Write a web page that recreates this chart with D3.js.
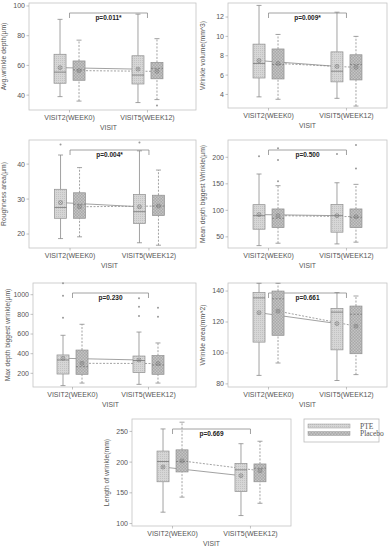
<!DOCTYPE html>
<html lang="en">
<head>
<meta charset="UTF-8">
<title>Wrinkle box plots</title>
<script src="https://d3js.org/d3.v7.min.js"></script>
<style>
  body { margin: 0; background: #fff; }
  svg { display: block; font-family: "Liberation Sans", Arial, sans-serif; }
  .tick-label { font-size: 7px; fill: #555; }
  .axis-title { font-size: 6.8px; fill: #555; }
  .pval { font-size: 6.5px; font-weight: bold; fill: #222; }
  .legend-text { font-family: "Liberation Serif", serif; font-size: 7.5px; fill: #555; }
</style>
</head>
<body>
<svg id="chart" width="391" height="550"></svg>
<script>
// categories
var visits = ["VISIT2(WEEK0)", "VISIT5(WEEK12)"];
var groups = ["PTE", "Placebo"];

var yTitles = ["Avg.wrinkle depth(\u00b5m)", "Wrinkle volume(mm^3)", "Roughness area(\u00b5m)",
  "Mean depth biggest Wrinkle(\u00b5m)", "Max depth biggest wrinkle(\u00b5m)",
  "Wrinkle area(mm^2)", "Length of wrinkle(mm)"];
var pValues = ["p=0.011*", "p=0.009*", "p=0.004*", "p=0.500", "p=0.230", "p=0.661", "p=0.669"];

var yTicks = [
  [40, 60, 80, 100],
  [4, 6, 8, 10, 12],
  [20, 30, 40],
  [50, 100, 150, 200],
  [200, 400, 600, 800, 1000],
  [80, 100, 120, 140],
  [100, 150, 200, 250]
];
var yDomains = [[30, 102], [2.6, 13.45], [16, 46.9], [29, 232.6], [61, 1119], [78, 145.2], [96, 270.2]];

// each row: [whisker low, q1, median, q3, whisker high, mean]
// order: PTE V2, Placebo V2, PTE V5, Placebo V5
var avgDepth = [[39, 48, 55.5, 67.5, 91, 58.5], [36, 50, 57, 63, 77, 56.5],
                [35, 47.5, 53.5, 66.5, 94.5, 57.5], [37, 51, 58, 62, 78, 56]];
var avgDepthOut = [[], [], [], [33]];

var volume = [[3.75, 5.7, 7.2, 9.2, 13.2, 7.5], [3.5, 5.6, 7.1, 8.7, 10.2, 7.2],
              [3.6, 5.3, 6.4, 8.4, 12.5, 6.9], [2.8, 5.5, 7.1, 8.1, 10.0, 6.8]];
var volumeOut = [[], [], [], []];

var roughness = [[18.7, 24.5, 27.6, 32.8, 42.6, 29], [19.2, 24.5, 28.5, 31.8, 39, 27.8],
                 [17.5, 23, 26.4, 31.3, 43.8, 27.8], [16.8, 25.3, 28, 31.1, 38.3, 28]];
var roughnessOut = [[45.6], [], [46.2], []];

var meanDepth = [[33.5, 64.4, 90, 110.7, 168.5, 92], [38, 67.4, 85, 102.6, 146.5, 90],
                 [36.7, 58.8, 90, 111, 152, 90], [40, 67.4, 87, 102.6, 149, 88]];
var meanDepthOut = [[202], [217, 195, 155], [206], [223, 179]];

var maxDepth = [[75, 193, 336, 387, 587, 353], [101, 190, 268, 437, 699, 302],
                [88, 207, 330, 376, 620, 336], [101, 190, 285, 380, 509, 300]];
var maxDepthOut = [[1116, 990, 766], [], [963, 878, 783], [868, 776]];

var area = [[85.5, 107, 135.6, 139, 145, 126], [93.5, 111.4, 135, 140, 145, 127],
            [82.2, 102, 126.4, 128.8, 139, 119], [86, 99.5, 125, 130.3, 136.8, 117.3]];
var areaOut = [[], [], [], []];

var lengthW = [[118.5, 168, 201, 218, 254, 192], [143, 184, 201, 220, 265, 202],
               [113, 152, 187.5, 198, 230, 178], [133, 168, 190, 197, 234, 186]];
var lengthWOut = [[], [], [], []];

var allStats = [avgDepth, volume, roughness, meanDepth, maxDepth, area, lengthW];
var allOut = [avgDepthOut, volumeOut, roughnessOut, meanDepthOut, maxDepthOut, areaOut, lengthWOut];

// layout: frame box and the x range the categories are spread over
var frames = [
  {x0: 29, x1: 196, xr: 188, y0: 3, y1: 110},
  {x0: 228, x1: 387, xr: 387, y0: 3, y1: 108},
  {x0: 29, x1: 196, xr: 190, y0: 140, y1: 248},
  {x0: 228, x1: 387, xr: 387, y0: 140, y1: 248},
  {x0: 33, x1: 196, xr: 188, y0: 283, y1: 387},
  {x0: 228, x1: 387, xr: 387, y0: 283, y1: 387},
  {x0: 132, x1: 291, xr: 291, y0: 419, y1: 526}
];

var svg = d3.select("#chart");
var defs = svg.append("defs");

// fill textures
var pPte = defs.append("pattern").attr("id", "patPTE")
    .attr("width", 2).attr("height", 2).attr("patternUnits", "userSpaceOnUse");
pPte.append("rect").attr("width", 2).attr("height", 2).attr("fill", "#d6d6d6");
pPte.append("rect").attr("width", 1).attr("height", 1).attr("fill", "#c2c2c2");

var pPl = defs.append("pattern").attr("id", "patPlacebo")
    .attr("width", 3).attr("height", 3).attr("patternUnits", "userSpaceOnUse");
pPl.append("rect").attr("width", 3).attr("height", 3).attr("fill", "#a9a9a9");
pPl.append("rect").attr("width", 1.5).attr("height", 1.5).attr("fill", "#c4c4c4");
pPl.append("rect").attr("x", 1.5).attr("y", 1.5).attr("width", 1.5).attr("height", 1.5).attr("fill", "#c4c4c4");

var fills = {PTE: "url(#patPTE)", Placebo: "url(#patPlacebo)"};
var dashes = {PTE: null, Placebo: "2,1.5"};
var lineCol = "#8a8a8a";

frames.forEach(function(f, i) {
  var g = svg.append("g");
  var stats = allStats[i], outs = allOut[i];

  var x = d3.scalePoint().domain(visits).range([f.x0, f.xr]).padding(0.52);
  var xg = d3.scalePoint().domain(groups).range([-9.5, 9.5]);
  var y = d3.scaleLinear().domain(yDomains[i]).range([f.y1, f.y0]);
  var bw = 12, cap = 5;

  // frame
  g.append("rect").attr("x", f.x0).attr("y", f.y0)
    .attr("width", f.x1 - f.x0).attr("height", f.y1 - f.y0)
    .attr("fill", "none").attr("stroke", "#c4c4c4").attr("stroke-width", 0.8);

  // y axis
  yTicks[i].forEach(function(t) {
    g.append("line").attr("x1", f.x0 - 2.5).attr("x2", f.x0)
      .attr("y1", y(t)).attr("y2", y(t)).attr("stroke", "#999").attr("stroke-width", 0.6);
    g.append("text").attr("class", "tick-label")
      .attr("x", f.x0 - 4).attr("y", y(t)).attr("dy", "0.35em")
      .attr("text-anchor", "end").text(t);
  });
  g.append("text").attr("class", "axis-title")
    .attr("transform", "translate(" + (f.x0 - 23) + "," + ((f.y0 + f.y1) / 2) + ") rotate(-90)")
    .attr("text-anchor", "middle").text(yTitles[i]);

  // x axis
  visits.forEach(function(v) {
    g.append("line").attr("x1", x(v)).attr("x2", x(v))
      .attr("y1", f.y1).attr("y2", f.y1 + 2.5).attr("stroke", "#999").attr("stroke-width", 0.6);
    g.append("text").attr("class", "tick-label")
      .attr("x", x(v)).attr("y", f.y1 + 10).attr("text-anchor", "middle").text(v);
  });
  g.append("text").attr("class", "axis-title")
    .attr("x", (x(visits[0]) + x(visits[1])) / 2).attr("y", f.y1 + 20)
    .attr("text-anchor", "middle").text("VISIT");

  // p-value bracket
  var by = f.y0 + 10;
  g.append("path")
    .attr("d", "M" + x(visits[0]) + "," + (by + 5) + "V" + by + "H" + x(visits[1]) + "V" + (by + 5))
    .attr("fill", "none").attr("stroke", lineCol).attr("stroke-width", 0.8);
  g.append("text").attr("class", "pval")
    .attr("x", (x(visits[0]) + x(visits[1])) / 2).attr("y", by + 7)
    .attr("text-anchor", "middle").text(pValues[i]);

  var items = [];
  visits.forEach(function(v, vi) {
    groups.forEach(function(gr, gi) {
      var s = stats[vi * 2 + gi];
      items.push({visit: v, group: gr, s: s, out: outs[vi * 2 + gi], cx: x(v) + xg(gr)});
    });
  });

  // mean lines
  groups.forEach(function(gr) {
    var pts = items.filter(function(d) { return d.group === gr; });
    g.append("line")
      .attr("x1", pts[0].cx).attr("y1", y(pts[0].s[5]))
      .attr("x2", pts[1].cx).attr("y2", y(pts[1].s[5]))
      .attr("stroke", lineCol).attr("stroke-width", 0.8)
      .attr("stroke-dasharray", dashes[gr]);
  });

  items.forEach(function(d) {
    var s = d.s, cx = d.cx;
    var dash = dashes[d.group];
    // whiskers
    g.append("line").attr("x1", cx).attr("x2", cx).attr("y1", y(s[0])).attr("y2", y(s[1]))
      .attr("stroke", lineCol).attr("stroke-width", 0.8).attr("stroke-dasharray", dash);
    g.append("line").attr("x1", cx).attr("x2", cx).attr("y1", y(s[3])).attr("y2", y(s[4]))
      .attr("stroke", lineCol).attr("stroke-width", 0.8).attr("stroke-dasharray", dash);
    [s[0], s[4]].forEach(function(w) {
      g.append("line").attr("x1", cx - cap / 2).attr("x2", cx + cap / 2)
        .attr("y1", y(w)).attr("y2", y(w)).attr("stroke", lineCol).attr("stroke-width", 0.8);
    });
    // box
    g.append("rect").attr("x", cx - bw / 2).attr("y", y(s[3]))
      .attr("width", bw).attr("height", y(s[1]) - y(s[3]))
      .attr("fill", fills[d.group]).attr("stroke", "#8f8f8f").attr("stroke-width", 0.7);
    // median
    g.append("line").attr("x1", cx - bw / 2).attr("x2", cx + bw / 2)
      .attr("y1", y(s[2])).attr("y2", y(s[2]))
      .attr("stroke", "#777").attr("stroke-width", 0.8).attr("stroke-dasharray", dash);
    // mean marker
    g.append("circle").attr("cx", cx).attr("cy", y(s[5])).attr("r", 2)
      .attr("fill", "none").attr("stroke", "#777").attr("stroke-width", 0.6);
    g.append("path")
      .attr("d", "M" + (cx - 1.4) + "," + (y(s[5]) - 1.4) + "l2.8,2.8M" + (cx - 1.4) + "," + (y(s[5]) + 1.4) + "l2.8,-2.8")
      .attr("stroke", "#777").attr("stroke-width", 0.5);
    // outliers
    d.out.forEach(function(o) {
      g.append("circle").attr("cx", cx).attr("cy", y(o)).attr("r", 1)
        .attr("fill", "#999");
    });
  });
});

// legend
var lg = svg.append("g");
lg.append("rect").attr("x", 304).attr("y", 419).attr("width", 75).attr("height", 23)
  .attr("fill", "#fff").attr("stroke", "#bbb").attr("stroke-width", 0.8);
groups.forEach(function(gr, i) {
  var yy = 426 + i * 7.5;
  lg.append("rect").attr("x", 308).attr("y", yy - 2).attr("width", 42).attr("height", 4)
    .attr("fill", fills[gr]).attr("stroke", "#999").attr("stroke-width", 0.5);
  lg.append("text").attr("class", "legend-text").attr("x", 360).attr("y", yy)
    .attr("dy", "0.35em").text(gr);
});
</script>
</body>
</html>
